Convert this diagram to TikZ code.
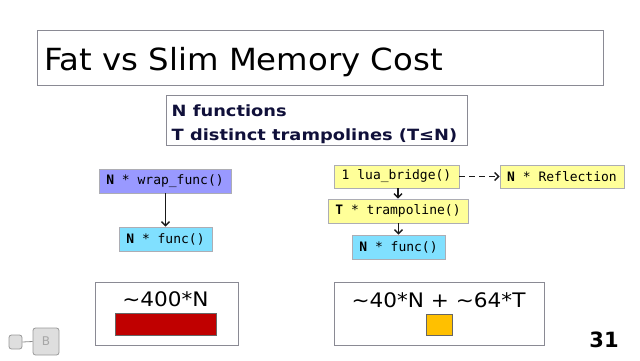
\documentclass[tikz,border=0pt]{standalone}
\usepackage{fontspec}
\setmainfont{DejaVu Sans}
\setmonofont{DejaVu Sans Mono}
\newfontfamily\widesans[FakeStretch=1.08]{DejaVu Sans}
\newfontfamily\titlesans[FakeStretch=1.06]{DejaVu Sans}
\newfontfamily\widebold[FakeStretch=1.15]{DejaVu Sans Bold}
\usetikzlibrary{arrows.meta}
\definecolor{lav}{HTML}{9999FF}
\definecolor{cyn}{HTML}{80E0FF}
\definecolor{yel}{HTML}{FFFF99}
\definecolor{navy}{HTML}{10103A}
\definecolor{bred}{HTML}{C00000}
\definecolor{org}{HTML}{FFC000}
\definecolor{bdr}{HTML}{8A8A94}
\tikzset{
  codebox/.style={draw=bdr!70, line width=0.6pt, inner sep=0pt, font=\ttfamily\fontsize{13}{15}\selectfont, text=black},
  panel/.style={draw=bdr, line width=0.8pt, inner sep=0pt},
  arr/.style={-{Straight Barb[length=4pt,width=8pt,line width=1.4pt]}, line width=1.6pt, draw=black!90},
  logo/.style={draw=black!40, fill=black!13, rounded corners=2.5pt, line width=0.8pt}
}
\begin{document}
\begin{tikzpicture}[x=1pt,y=-1pt]
\useasboundingbox (0,0) rectangle (640,360);
% title
\node[panel, minimum width=566pt, minimum height=55pt] (title) at (320,57.5) {};
\node[anchor=base west, inner sep=0pt, font=\titlesans\fontsize{30.5}{32}\selectfont] (tt) at (44,70.7) {Fat vs Slim Memory Cost};
% subtitle
\node[panel, minimum width=301pt, minimum height=50pt] (sub) at (316.5,120) {};
\node[anchor=base west, inner sep=0pt, text=navy, font=\widebold\fontsize{15.5}{18}\selectfont] (st1) at (171.5,116) {N functions};
\node[anchor=base west, inner sep=0pt, text=navy, font=\widebold\fontsize{15.5}{18}\selectfont] (st2) at (171.5,140) {T distinct trampolines (T≤N)};
% left
\node[codebox, fill=lav, minimum width=132pt, minimum height=24pt] (wrap) at (165,181) {\textbf{N} * wrap\_func()};
\node[codebox, fill=cyn, minimum width=93pt, minimum height=24pt] (lf) at (165.5,239) {\textbf{N} * func()};
\draw[arr] (wrap.south -| lf.north) -- (lf.north);
% right
\node[codebox, fill=yel, minimum width=125pt, minimum height=23pt] (lua) at (396.5,176.5) {1 lua\_bridge()};
\node[codebox, fill=yel, minimum width=124pt, minimum height=23pt] (refl) at (562,176.5) {\textbf{N} * Reflection};
\node[codebox, fill=yel, minimum width=140pt, minimum height=24pt] (tramp) at (398,211) {\textbf{T} * trampoline()};
\node[codebox, fill=cyn, minimum width=93pt, minimum height=24pt] (rf) at (398.5,247) {\textbf{N} * func()};
\draw[arr] (lua.south -| tramp.north) -- (tramp.north);
\draw[arr] (tramp.south -| rf.north) -- (rf.north);
\draw[arr, dash pattern=on 6pt off 4pt] (lua.east) -- (refl.west);
% bottom panels
\node[panel, minimum width=143pt, minimum height=63pt] (bl) at (166.5,313.5) {};
\node[anchor=base, inner sep=0pt, font=\widesans\fontsize{20}{22}\selectfont] (blt) at (165.5,306.5) {\char`~400*N};
\node[draw=black!60, fill=bred, line width=0.5pt, minimum width=101pt, minimum height=21.5pt, inner sep=0pt] (redbar) at (166,324) {};
\node[panel, minimum width=210pt, minimum height=63pt] (br) at (439,313.5) {};
\node[anchor=base, inner sep=0pt, font=\widesans\fontsize{20}{22}\selectfont] (brt) at (438.5,307) {\char`~40*N + \char`~64*T};
\node[draw=black!60, fill=org, line width=0.5pt, minimum width=26pt, minimum height=21.5pt, inner sep=0pt] (osq) at (439,324.5) {};
% page number
\node[font=\bfseries\fontsize{21}{23}\selectfont] (pg) at (604,340) {31};
% logo
\node[logo, minimum width=13pt, minimum height=14pt, inner sep=0pt] (lg1) at (15.5,342) {};
\node[logo, minimum width=26pt, minimum height=27pt, inner sep=0pt, text=black!35, font=\fontsize{12}{12}\selectfont] (lg2) at (46,341.5) {B};
\draw[black!45, line width=0.8pt] (lg1.east) -- (lg2.west);
\end{tikzpicture}
\end{document}
